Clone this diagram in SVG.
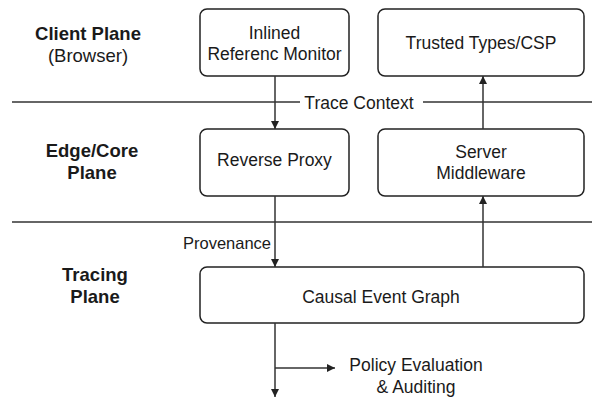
<svg xmlns="http://www.w3.org/2000/svg" width="592" height="398" viewBox="0 0 592 398">
<style>
.box{fill:#fff;stroke:#222;stroke-width:1.5}
.ln{stroke:#333;stroke-width:1.5;fill:none}
.t{font-family:"Liberation Sans",Arial,sans-serif;font-size:17.5px;fill:#1a1a1a;text-anchor:middle;dominant-baseline:central}
.b{font-weight:bold;font-size:18.5px}
</style>
<defs>
<marker id="ah" viewBox="0 0 10 10" refX="10" refY="5" markerWidth="8" markerHeight="8" markerUnits="userSpaceOnUse" orient="auto">
<path d="M0,0 L10,5 L0,10 z" fill="#222"/>
</marker>
</defs>
<rect width="592" height="398" fill="#fff"/>
<g id="lanes">
<line class="ln" x1="12" y1="102" x2="300" y2="102"/>
<line class="ln" x1="423" y1="102" x2="592" y2="102"/>
<text class="t" x="359" y="103">Trace Context</text>
<line class="ln" x1="12" y1="222" x2="592" y2="222"/>
<text class="t b" x="88" y="33">Client Plane</text>
<text class="t" x="88" y="55" style="font-size:18.5px">(Browser)</text>
<text class="t b" x="92" y="150">Edge/Core</text>
<text class="t b" x="92" y="172">Plane</text>
<text class="t b" x="95" y="274">Tracing</text>
<text class="t b" x="95" y="296">Plane</text>
</g>
<g id="irm">
<rect class="box" x="200" y="9" width="149" height="67" rx="7"/>
<text class="t" x="274.5" y="33">Inlined</text>
<text class="t" x="274.5" y="54">Referenc Monitor</text>
</g>
<g id="tt">
<rect class="box" x="378" y="9" width="206" height="67" rx="7"/>
<text class="t" x="481" y="43">Trusted Types/CSP</text>
</g>
<g id="rp">
<rect class="box" x="200" y="129" width="149" height="67" rx="7"/>
<text class="t" x="274.5" y="160">Reverse Proxy</text>
</g>
<g id="sm">
<rect class="box" x="378" y="129" width="206" height="67" rx="7"/>
<text class="t" x="481" y="152">Server</text>
<text class="t" x="481" y="173">Middleware</text>
</g>
<g id="ceg">
<rect class="box" x="200" y="267" width="384" height="56" rx="7"/>
<text class="t" x="381" y="297">Causal Event Graph</text>
</g>
<g id="pea">
<text class="t" x="416" y="365">Policy Evaluation</text>
<text class="t" x="416" y="387">&amp; Auditing</text>
</g>
<g id="connectors">
<line class="ln" x1="275" y1="76" x2="275" y2="129" marker-end="url(#ah)"/>
<line class="ln" x1="275" y1="196" x2="275" y2="267" marker-end="url(#ah)"/>
<text class="t" x="227" y="243" style="font-size:16.5px">Provenance</text>
<line class="ln" x1="483" y1="267" x2="483" y2="196" marker-end="url(#ah)"/>
<line class="ln" x1="483" y1="129" x2="483" y2="76" marker-end="url(#ah)"/>
<line class="ln" x1="275" y1="323" x2="275" y2="397" marker-end="url(#ah)"/>
<line class="ln" x1="275" y1="368" x2="335" y2="368" marker-end="url(#ah)"/>
</g>
</svg>
